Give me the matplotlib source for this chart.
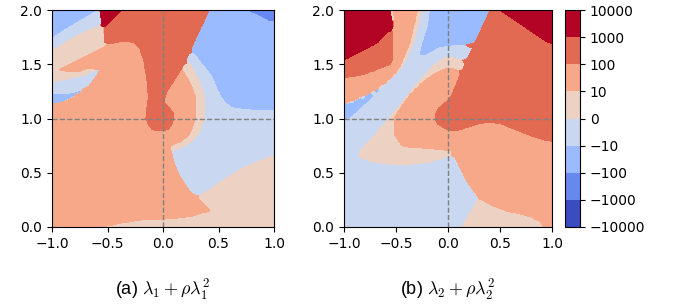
import numpy as np
import matplotlib
matplotlib.use("Agg")
import matplotlib.pyplot as plt
from matplotlib.colors import ListedColormap, BoundaryNorm

plt.rcParams["mathtext.fontset"] = "cm"

LEVELS = [-10000, -1000, -100, -10, 0, 10, 100, 1000, 10000]
# one representative value for each band between two levels
BAND_VALUES = [-3000, -300, -30, -3, 3, 30, 300, 3000]
X_TICKS = [-1.0, -0.5, 0.0, 0.5, 1.0]
Y_TICKS = [0.0, 0.5, 1.0, 1.5, 2.0]
CAPTIONS = [r"(a) $\lambda_1 + \rho\lambda_1^2$", r"(b) $\lambda_2 + \rho\lambda_2^2$"]

# rows, y = 2.00, 1.95, ..., 0.00
# each row: (band index, x where the band ends), left to right
Y_ROWS = np.round(np.arange(2.0, -0.001, -0.05), 2)

PANEL_A_ROWS = [
    [(2, -0.58), (3, -0.566), (7, -0.371), (6, 0.416), (2, 0.745), (1, 1)],
    [(2, -0.665), (3, -0.56), (7, -0.42), (6, 0.393), (2, 0.85), (1, 1)],
    [(2, -0.75), (3, -0.55), (7, -0.47), (6, 0.37), (2, 0.947), (1, 1)],
    [(2, -0.835), (3, -0.58), (4, -0.537), (7, -0.52), (6, 0.346), (2, 1)],
    [(2, -0.91), (3, -0.7), (4, -0.53), (6, 0.323), (2, 1)],
    [(2, -0.985), (3, -0.79), (4, -0.525), (6, 0.30), (2, 1)],
    [(3, -0.88), (4, -0.52), (6, -0.43), (5, -0.257), (6, 0.278), (2, 1)],
    [(3, -0.955), (4, -0.545), (5, -0.21), (6, 0.256), (2, 1)],
    [(4, -0.64), (5, -0.194), (6, 0.233), (3, 0.274), (2, 1)],
    [(4, -0.74), (5, -0.177), (6, 0.211), (3, 0.313), (2, 1)],
    [(4, -0.835), (5, -0.167), (6, 0.184), (4, 0.245), (3, 0.352), (2, 1)],
    [(4, -0.935), (5, -0.72), (4, -0.605), (3, -0.565), (5, -0.159), (6, 0.158),
     (5, 0.172), (4, 0.272), (3, 0.391), (2, 1)],
    [(4, -0.71), (3, -0.593), (5, -0.149), (6, 0.131), (5, 0.2), (4, 0.298), (3, 0.43), (2, 1)],
    [(4, -0.933), (3, -0.628), (5, -0.144), (6, 0.099), (5, 0.231), (4, 0.32), (3, 0.456), (2, 1)],
    [(3, -0.667), (5, -0.139), (6, 0.064), (5, 0.255), (4, 0.34), (3, 0.475), (2, 1)],
    [(3, -0.78), (2, -0.72), (5, -0.137), (6, 0.037), (5, 0.273), (4, 0.359), (3, 0.498), (2, 1)],
    [(2, -0.8), (5, -0.132), (6, 0.018), (5, 0.291), (4, 0.368), (3, 0.52), (2, 1)],
    [(2, -0.9), (5, -0.138), (6, 0.008), (5, 0.291), (4, 0.373), (3, 0.558), (2, 1)],
    [(5, -0.144), (6, 0.06), (5, 0.291), (4, 0.375), (3, 0.62), (2, 1)],
    [(5, -0.149), (6, 0.09), (5, 0.29), (4, 0.378), (3, 1)],
    [(5, -0.153), (6, 0.093), (5, 0.289), (4, 0.38), (3, 1)],
    [(5, -0.133), (6, 0.08), (5, 0.275), (4, 0.353), (3, 1)],
    [(5, -0.1), (6, 0.045), (5, 0.258), (4, 0.34), (3, 1)],
    [(5, 0.235), (4, 0.31), (3, 1)],
    [(5, 0.178), (4, 0.27), (3, 1)],
    [(5, 0.07), (4, 0.2), (3, 1)],
    [(5, 0.066), (4, 0.085), (3, 1)],
    [(5, 0.082), (3, 0.975), (4, 1)],
    [(5, 0.098), (3, 0.85), (4, 1)],
    [(5, 0.114), (3, 0.733), (4, 1)],
    [(5, 0.134), (3, 0.65), (4, 1)],
    [(5, 0.163), (3, 0.571), (4, 1)],
    [(5, 0.193), (3, 0.5), (4, 1)],
    [(5, 0.226), (3, 0.43), (4, 1)],
    [(5, 0.275), (3, 0.355), (4, 1)],
    [(5, 0.324), (4, 1)],
    [(5, 0.374), (4, 1)],
    [(5, 0.425), (4, 1)],
    [(5, 0.25), (4, 1)],
    [(5, -0.3), (4, 1)],
    [(5, -0.565), (4, 1)],
]

PANEL_B_ROWS = [
    [(7, -0.561), (4, -0.525), (5, -0.295), (4, -0.25), (3, -0.176), (2, 0.407), (6, 0.497), (7, 1)],
    [(7, -0.55), (4, -0.52), (5, -0.307), (4, -0.263), (3, -0.184), (2, 0.383), (6, 0.575), (7, 1)],
    [(7, -0.54), (4, -0.52), (5, -0.319), (4, -0.276), (3, -0.192), (2, 0.359), (6, 0.653), (7, 1)],
    [(7, -0.53), (5, -0.331), (4, -0.29), (3, -0.2), (2, 0.334), (6, 0.731), (7, 1)],
    [(7, -0.577), (6, -0.53), (5, -0.343), (4, -0.304), (3, -0.217), (2, 0.31), (6, 0.808), (7, 1)],
    [(7, -0.629), (6, -0.53), (5, -0.355), (4, -0.318), (3, -0.233), (2, 0.286), (6, 0.886), (7, 1)],
    [(7, -0.68), (6, -0.53), (5, -0.368), (4, -0.332), (3, -0.25), (2, 0.261), (6, 0.964), (7, 1)],
    [(7, -0.776), (6, -0.53), (5, -0.387), (4, -0.352), (3, -0.262), (2, -0.087), (3, 0.237), (6, 1)],
    [(7, -0.88), (6, -0.53), (5, -0.41), (4, -0.377), (3, -0.275), (2, -0.176), (3, 0.213), (6, 1)],
    [(7, -0.98), (6, -0.53), (5, -0.433), (4, -0.402), (3, -0.287), (2, -0.278), (3, -0.048),
     (4, 0.083), (3, 0.188), (6, 1)],
    [(6, -0.555), (5, -0.455), (4, -0.427), (3, -0.12), (4, 0.165), (6, 1)],
    [(6, -0.69), (5, -0.489), (4, -0.463), (3, -0.178), (4, -0.05), (5, 0.074), (4, 0.142), (6, 1)],
    [(6, -0.838), (5, -0.534), (4, -0.51), (3, -0.225), (4, -0.146), (5, 0.119), (6, 1)],
    [(5, -0.589), (4, -0.566), (3, -0.272), (4, -0.217), (5, 0.096), (6, 1)],
    [(5, -0.662), (4, -0.64), (3, -0.612), (2, -0.6), (3, -0.317), (4, -0.276), (5, 0.073), (6, 1)],
    [(5, -0.743), (4, -0.72), (3, -0.705), (2, -0.658), (3, -0.358), (4, -0.327), (5, 0.052), (6, 1)],
    [(5, -0.858), (4, -0.837), (3, -0.8), (2, -0.715), (3, -0.4), (4, -0.373), (5, 0.031), (6, 1)],
    [(5, -0.972), (4, -0.952), (3, -0.911), (2, -0.772), (3, -0.442), (4, -0.414), (5, -0.02), (6, 1)],
    [(2, -0.829), (3, -0.483), (4, -0.45), (5, -0.085), (6, 1)],
    [(2, -0.886), (3, -0.526), (4, -0.485), (5, -0.115), (6, 1)],
    [(2, -0.943), (3, -0.57), (4, -0.52), (5, -0.122), (6, 1)],
    [(3, -0.613), (4, -0.52), (5, -0.1), (6, 0.28), (5, 0.52), (6, 1)],
    [(3, -0.657), (4, -0.52), (5, -0.008), (6, 0.125), (5, 0.643), (6, 1)],
    [(3, -0.7), (4, -0.513), (5, 0.774), (6, 1)],
    [(3, -0.747), (4, -0.479), (5, 0.933), (6, 1)],
    [(3, -0.795), (4, -0.444), (5, 1)],
    [(3, -0.842), (4, 0.041), (5, 1)],
    [(3, -0.86), (4, -0.005), (3, 0.065), (5, 1)],
    [(3, -0.72), (4, -0.175), (3, 0.09), (5, 1)],
    [(3, 0.116), (5, 1)],
    [(3, 0.142), (5, 1)],
    [(3, 0.168), (5, 1)],
    [(3, 0.198), (5, 1)],
    [(3, 0.235), (5, 1)],
    [(3, 0.272), (5, 1)],
    [(3, 0.284), (4, 0.33), (5, 1)],
    [(3, 0.254), (4, 0.423), (5, 1)],
    [(3, 0.225), (4, 0.557), (5, 1)],
    [(3, 0.195), (4, 0.785), (5, 1)],
    [(3, 0.165), (4, 0.889), (5, 1)],
    [(3, 0.135), (4, 0.92), (5, 1)],
]


def row_distance(row, xs, band, cap=0.25):
    # signed distance along x to the band's stretches in one row (inside > 0)
    ends = [e for _, e in row]
    starts = [-3.0] + ends[:-1]
    ends = ends[:-1] + [3.0]
    d = np.full(xs.shape, -np.inf)
    for (b, _), s, e in zip(row, starts, ends):
        if b == band:
            d = np.maximum(d, np.minimum(xs - s, e - xs))
    return np.clip(d, -cap, cap)


def band_field(rows, xs, ys):
    dist = np.array([[row_distance(row, xs, b) for b in range(8)] for row in rows])
    step = Y_ROWS[0] - Y_ROWS[1]
    jf = (Y_ROWS[0] - ys) / step
    j0 = np.clip(np.floor(jf).astype(int), 0, len(rows) - 2)
    t = (jf - j0)[:, None, None]
    # blend neighbouring rows so the band edges run straight between them
    blended = dist[j0] * (1 - t) + dist[j0 + 1] * t
    return np.argmax(blended, axis=1)


xs = np.linspace(-1, 1, 501)
ys = np.linspace(0, 2, 501)
X, Y = np.meshgrid(xs, ys)

base = plt.get_cmap("coolwarm")
cmap = ListedColormap([base(i / 7) for i in range(8)])
norm = BoundaryNorm(LEVELS, cmap.N)

fig = plt.figure(figsize=(6.8, 3.05), dpi=100)
ax_a = fig.add_axes([52 / 680, 1 - 227 / 305, 222 / 680, 217 / 305])
ax_b = fig.add_axes([344 / 680, 1 - 227 / 305, 208 / 680, 217 / 305])
cax = fig.add_axes([565 / 680, 1 - 227 / 305, 15 / 680, 217 / 305])

for ax, rows, caption in [(ax_a, PANEL_A_ROWS, CAPTIONS[0]), (ax_b, PANEL_B_ROWS, CAPTIONS[1])]:
    values = np.array(BAND_VALUES)[band_field(rows, xs, ys)]
    cs = ax.contourf(X, Y, values, levels=LEVELS, cmap=cmap, norm=norm)
    ax.axvline(0, color="gray", ls="--", lw=1)
    ax.axhline(1, color="gray", ls="--", lw=1)
    ax.set_xlim(-1, 1)
    ax.set_ylim(0, 2)
    ax.set_xticks(X_TICKS)
    ax.set_yticks(Y_TICKS)
    ax.tick_params(labelsize=10)
    pos = ax.get_position()
    fig.text((pos.x0 + pos.x1) / 2, 0.048, caption, ha="center", va="center",
             fontsize=13, family="Liberation Sans")

cb = fig.colorbar(cs, cax=cax, ticks=LEVELS)
cb.ax.tick_params(labelsize=10)

fig.savefig("out.png", dpi=100)
